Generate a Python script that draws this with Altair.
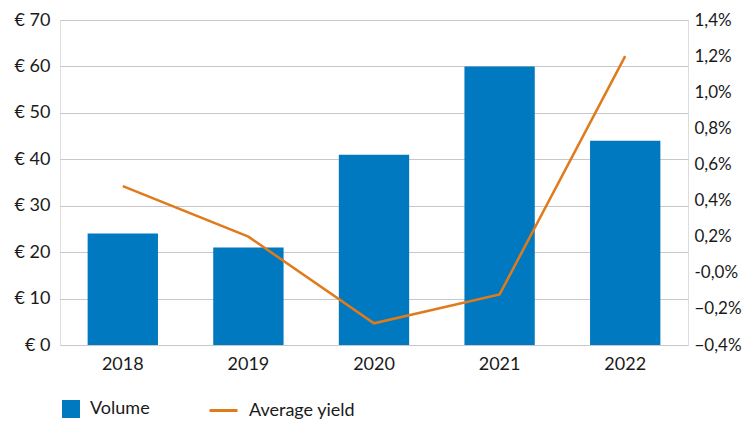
import altair as alt
import pandas as pd

years = ["2018", "2019", "2020", "2021", "2022"]
volume = [24, 21, 41, 60, 44]
avg_yield = [0.48, 0.20, -0.28, -0.12, 1.20]

left_ticks = [0, 10, 20, 30, 40, 50, 60, 70]
right_ticks = [-0.4, -0.2, 0.0, 0.2, 0.4, 0.6, 0.8, 1.0, 1.2, 1.4]

df = pd.DataFrame({
    "year": years,
    "volume": volume,
    "yield": avg_yield,
    "s_bar": ["Volume"] * 5,
    "s_line": ["Average yield"] * 5,
})

FONT = "Lato"
TXT = "#1a1a1a"
BLUE = "#0079c1"
ORANGE = "#e07a1a"

x = alt.X("year:N", title=None, scale=alt.Scale(paddingInner=0.44, paddingOuter=0.22),
          axis=alt.Axis(labelAngle=0, domain=False, ticks=False, labelPadding=10,
                        labelFontSize=18, labelColor=TXT, labelFont=FONT))

bars = alt.Chart(df).mark_bar(color=BLUE).encode(
    x=x,
    y=alt.Y("volume:Q", title=None,
            scale=alt.Scale(domain=[0, 70], nice=False),
            axis=alt.Axis(values=left_ticks, orient="left", domain=False, ticks=False,
                          labelPadding=10, labelFontSize=18, labelColor=TXT, labelFont=FONT,
                          gridColor="#c8c8c8", gridWidth=1,
                          labelExpr="'€ ' + datum.value")),
    color=alt.Color("s_bar:N", title=None,
                    scale=alt.Scale(domain=["Volume"], range=[BLUE]),
                    legend=alt.Legend(orient="none", legendX=2, legendY=380,
                                      symbolType="square", symbolSize=324,
                                      symbolStrokeWidth=0, symbolOpacity=1,
                                      labelFontSize=18, labelFont=FONT, labelColor=TXT,
                                      labelOffset=10, padding=0)),
)

line = alt.Chart(df).mark_line(strokeWidth=2.5).encode(
    x=x,
    y=alt.Y("yield:Q", title=None,
            scale=alt.Scale(domain=[-0.4, 1.4], nice=False, zero=False),
            axis=alt.Axis(values=right_ticks, orient="right", domain=False, ticks=False,
                          grid=False, labelPadding=6, labelFontSize=17, labelColor=TXT,
                          labelFont=FONT,
                          labelExpr="(abs(datum.value) < 1e-9 ? '-0,0' : replace(format(datum.value, '.1f'), '.', ',')) + '%'")),
    color=alt.Color("s_line:N", title=None,
                    scale=alt.Scale(domain=["Average yield"], range=[ORANGE]),
                    legend=alt.Legend(orient="none", legendX=148, legendY=375,
                                      symbolType="stroke", symbolSize=784,
                                      symbolStrokeWidth=3, symbolStrokeColor=ORANGE,
                                      labelFontSize=18, labelFont=FONT, labelColor=TXT,
                                      labelOffset=10, padding=0)),
)

chart = alt.layer(bars, line).resolve_scale(y="independent", color="independent").properties(
    width=628, height=325,
    autosize=alt.AutoSizeParams(type="none"),
    padding={"left": 52, "top": 12, "right": 54, "bottom": 75},
).configure_view(stroke=None).configure(background="white")

chart.save("out.html", embed_options={"renderer": "svg", "actions": False})
